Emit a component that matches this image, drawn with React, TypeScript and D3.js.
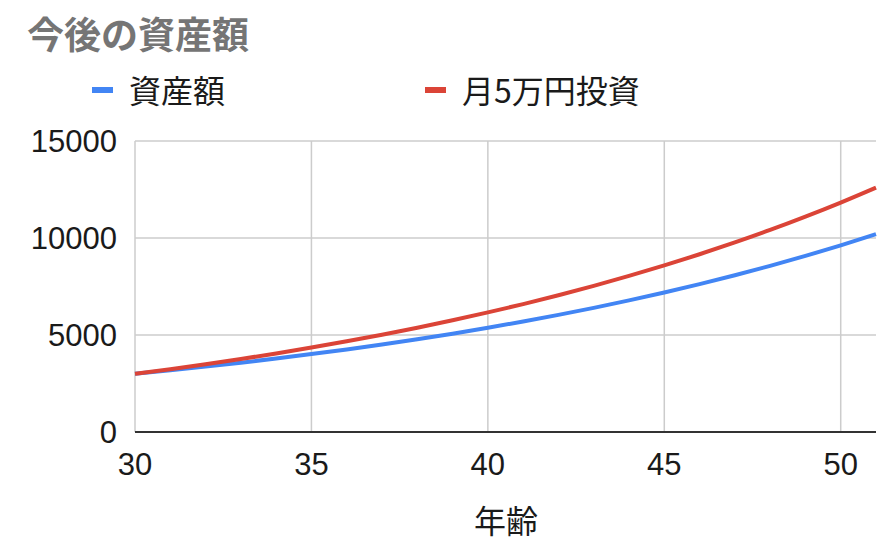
import React from "react";
import * as d3 from "d3";

const ages = [30, 31, 32, 33, 34, 35, 36, 37, 38, 39, 40, 41, 42, 43, 44, 45, 46, 47, 48, 49, 50, 51];
const assets = [3000, 3180, 3371, 3573, 3787, 4015, 4256, 4511, 4782, 5068, 5373, 5695, 6037, 6399, 6783, 7190, 7621, 8078, 8563, 9077, 9621, 10199];
const invest = [3000, 3240, 3495, 3764, 4049, 4353, 4675, 5015, 5376, 5757, 6164, 6593, 7049, 7532, 8044, 8587, 9161, 9771, 10417, 11103, 11828, 12599];
const xTicks = [30, 35, 40, 45, 50];
const yTicks = [0, 5000, 10000, 15000];
const seriesNames = ["資産額", "月5万円投資"];
const title = "今後の資産額";
const xTitle = "年齢";

const W = 894, H = 548;
const plot = { left: 135, right: 876, top: 141, bottom: 432 };
const colors = ["#4285F4", "#DB4437"];
const latin = "'Liberation Sans', Arial, Helvetica, sans-serif";
const cjk = "'Noto Sans CJK JP', 'Liberation Sans', sans-serif";

export default function App() {
  const x = d3.scaleLinear().domain([30, 51]).range([plot.left, plot.right]);
  const y = d3.scaleLinear().domain([0, 15000]).range([plot.bottom, plot.top]);
  const line = d3.line<[number, number]>().x(d => x(d[0])).y(d => y(d[1])).curve(d3.curveMonotoneX);
  const series = [assets, invest];
  const legendX = [92, 425];

  return (
    <svg width={W} height={H} style={{ position: "absolute", left: 0, top: 0, background: "#fff" }}>
      <text x={27} y={33} dominantBaseline="central" fontFamily={cjk} fontWeight={700} fontSize={37} fill="#757575">{title}</text>
      {seriesNames.map((n, i) => (
        <g key={n}>
          <rect x={legendX[i]} y={87} width={21} height={6} fill={colors[i]} />
          <text x={legendX[i] + 37} y={89} dominantBaseline="central" fontFamily={cjk} fontSize={32} fill="#1a1a1a">{n}</text>
        </g>
      ))}
      {yTicks.filter(t => t > 0).map(t => (
        <line key={"gy" + t} x1={plot.left} x2={plot.right} y1={y(t)} y2={y(t)} stroke="#cccccc" strokeWidth={1.5} />
      ))}
      {xTicks.map(t => (
        <line key={"gx" + t} x1={x(t)} x2={x(t)} y1={plot.top} y2={plot.bottom} stroke="#cccccc" strokeWidth={1.5} />
      ))}
      <line x1={plot.left} x2={plot.right} y1={y(0)} y2={y(0)} stroke="#333" strokeWidth={2} />
      {series.map((s, i) => (
        <path key={i} d={line(ages.map((a, j) => [a, s[j]] as [number, number])) || ""} fill="none" stroke={colors[i]} strokeWidth={4} strokeLinejoin="round" />
      ))}
      {yTicks.map(t => (
        <text key={"ty" + t} x={117} y={y(t)} textAnchor="end" dominantBaseline="central" fontFamily={latin} fontSize={31} fill="#1a1a1a">{t}</text>
      ))}
      {xTicks.map(t => (
        <text key={"tx" + t} x={x(t)} y={464} textAnchor="middle" dominantBaseline="central" fontFamily={latin} fontSize={31} fill="#1a1a1a">{t}</text>
      ))}
      <text x={506} y={519} textAnchor="middle" dominantBaseline="central" fontFamily={cjk} fontSize={32} fill="#1a1a1a">{xTitle}</text>
    </svg>
  );
}
